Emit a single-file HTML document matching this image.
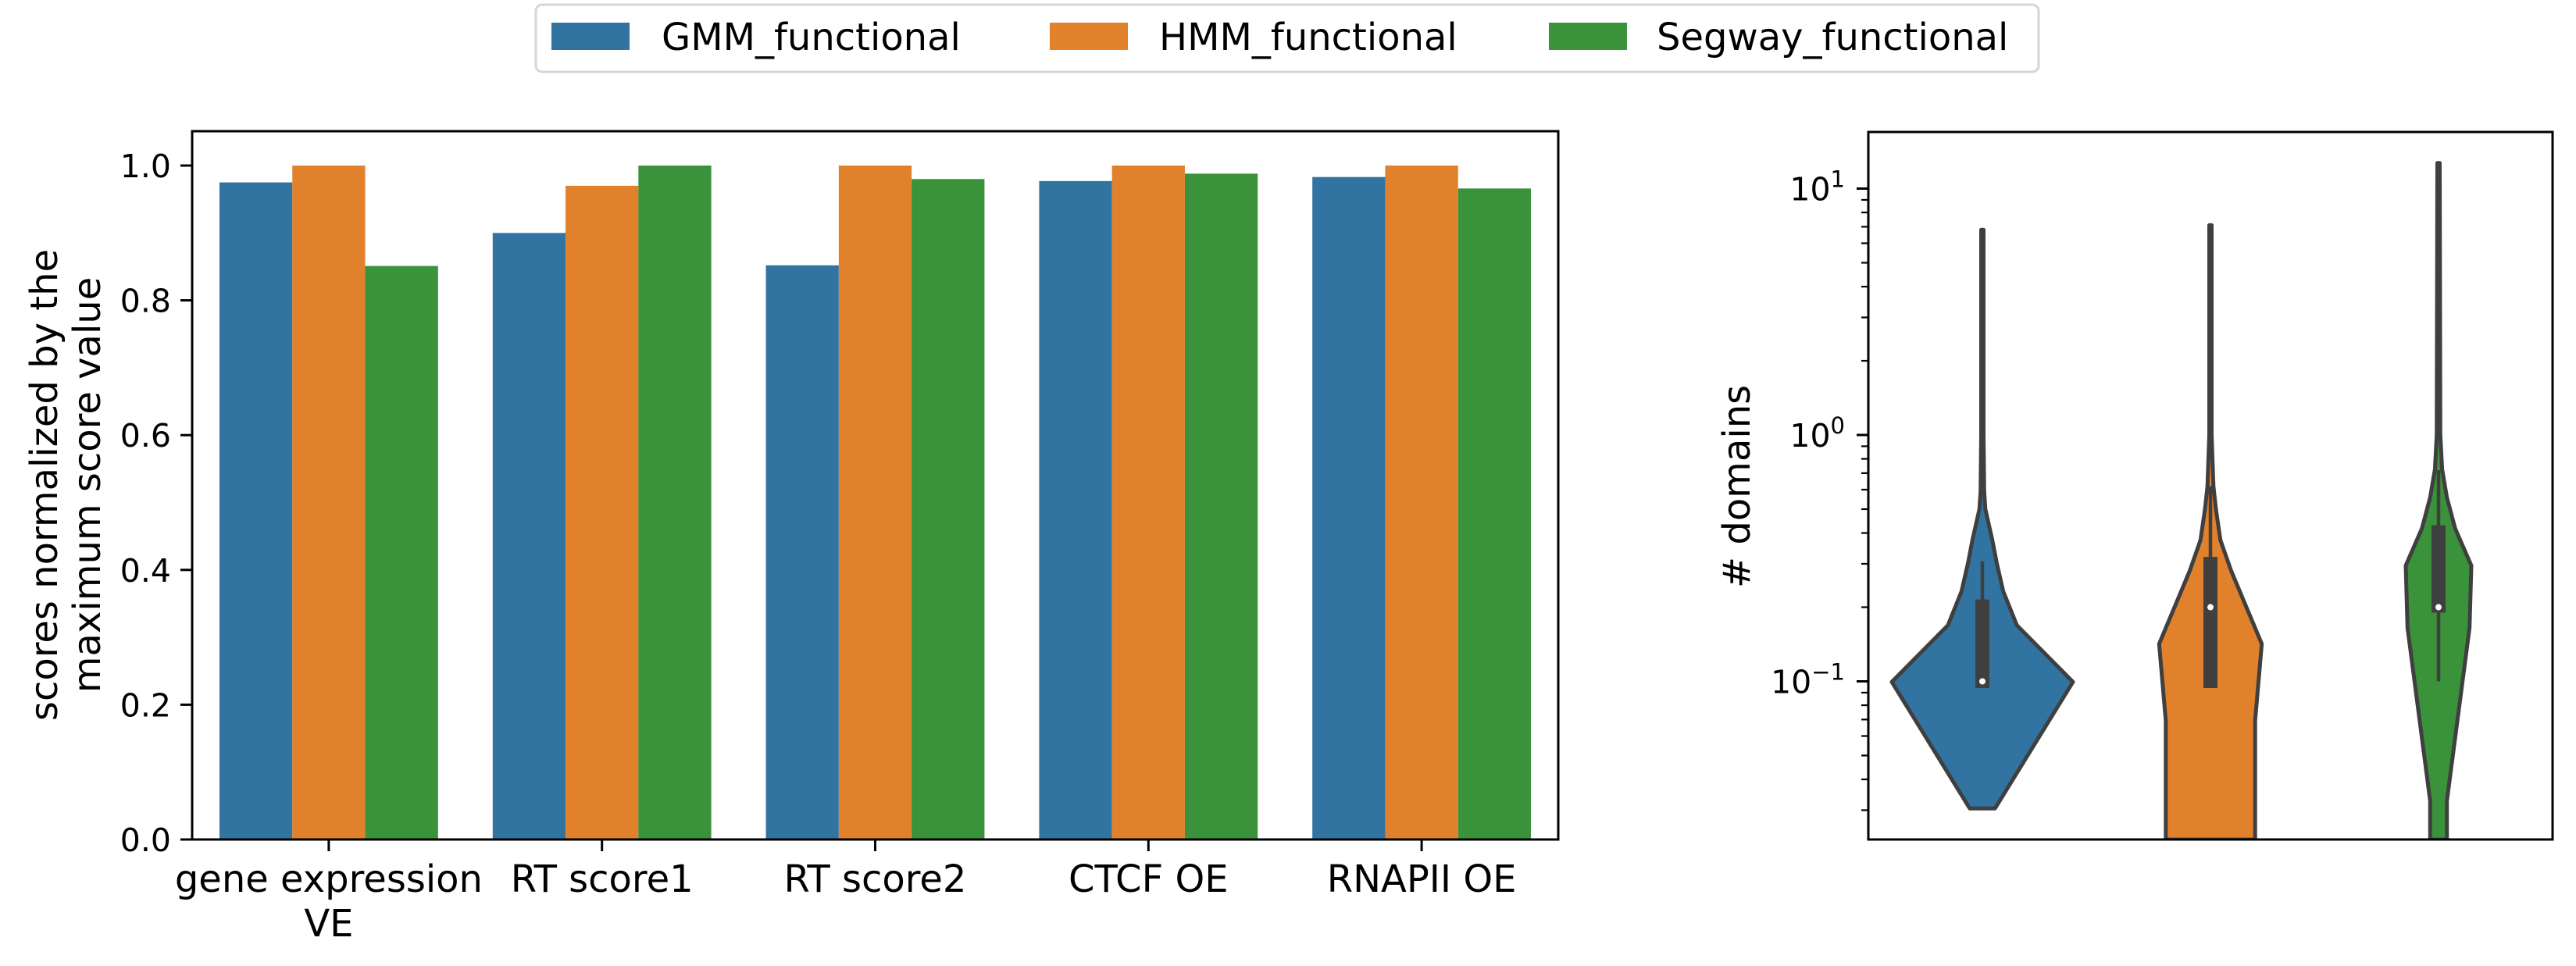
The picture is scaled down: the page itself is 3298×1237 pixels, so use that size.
<!DOCTYPE html>
<html><head><meta charset="utf-8"><style>
html,body{margin:0;padding:0;background:#fff;}
svg{display:block;font-family:"DejaVu Sans","Liberation Sans",sans-serif;}
</style></head><body>
<svg id="fig" width="3298" height="1237" viewBox="0 0 3298 1237" xmlns="http://www.w3.org/2000/svg">
<g id="legend">
<rect x="686" y="6" width="1924" height="86" rx="8" fill="#fff" stroke="#d6d6d6" stroke-width="3"/>
<rect x="706" y="29" width="100" height="35" fill="#3274a1"/>
<text x="847" y="64" font-size="48">GMM_functional</text>
<rect x="1344" y="29" width="100" height="35" fill="#e1812c"/>
<text x="1484" y="64" font-size="48">HMM_functional</text>
<rect x="1983" y="29" width="100" height="35" fill="#3a923a"/>
<text x="2121" y="64" font-size="48">Segway_functional</text>
</g>
<g id="bar"></g>
<g id="vio"></g>
</svg>
<script>
const categories = ["gene expression\nVE","RT score1","RT score2","CTCF OE","RNAPII OE"];
const gmmValues = [0.975,0.900,0.852,0.977,0.983];
const hmmValues = [1.0,0.970,1.0,1.0,1.0];
const segwayValues = [0.851,1.0,0.980,0.988,0.966];
const yTicks = [0,0.2,0.4,0.6,0.8,1.0];
const yTickLabels = ["0.0","0.2","0.4","0.6","0.8","1.0"];

const violinNames = ["GMM_functional","HMM_functional","Segway_functional"];
const gmmProfileValues = [6.8,1.0,0.59,0.50,0.374,0.303,0.232,0.169,0.0995,0.0305];
const gmmProfileDensity = [0.013,0.013,0.02,0.033,0.11,0.158,0.23,0.38,1.0,0.14];
const hmmProfileValues = [7.1,1.0,0.62,0.50,0.374,0.28,0.142,0.0693,0.0228];
const hmmProfileDensity = [0.013,0.013,0.033,0.06,0.11,0.23,0.566,0.493,0.493];
const segProfileValues = [12.7,1.0,0.726,0.558,0.417,0.295,0.165,0.0327,0.0228];
const segProfileDensity = [0.013,0.02,0.04,0.092,0.184,0.362,0.342,0.092,0.092];
const q1Values = [0.094,0.094,0.19];
const q3Values = [0.215,0.32,0.43];
const whiskerLow = [0.094,0.094,0.1];
const whiskerHigh = [0.307,0.62,0.72];
const medianValues = [0.1,0.2,0.2];
const logTickValues = [0.1,1,10];
const logTickExps = ["\u22121","0","1"];

const NS="http://www.w3.org/2000/svg";
function mk(parent,tag,attrs,text){const e=document.createElementNS(NS,tag);for(const k in attrs)e.setAttribute(k,attrs[k]);if(text!==undefined)e.textContent=text;parent.appendChild(e);return e;}
const colors=["#3274a1","#e1812c","#3a923a"];

// ---- bar chart ----
const bar=document.getElementById('bar');
const L={x0:246,x1:1995,y0:168,y1:1075};
const yB=v=>L.y1-v*863;
const step=(L.x1-L.x0)/categories.length;
const xC=i=>L.x0+step*(i+0.5);
const bw=step*0.8/3;
const series=[gmmValues,hmmValues,segwayValues];
const snames=["gmm","hmm","segway"];
series.forEach((vals,s)=>{vals.forEach((v,i)=>{
  const r=mk(bar,'rect',{x:xC(i)-1.5*bw+s*bw,y:yB(v),width:bw,height:yB(0)-yB(v),fill:colors[s]});
  
  
});});
const fr=mk(bar,'rect',{x:L.x0,y:L.y0,width:L.x1-L.x0,height:L.y1-L.y0,fill:'none',stroke:'#000','stroke-width':3});


yTicks.forEach((t,i)=>{
  const y=yB(t);
  const tk=mk(bar,'line',{x1:L.x0-15,x2:L.x0,y1:y,y2:y,stroke:'#000','stroke-width':3});
  
  
  const tx=mk(bar,'text',{x:L.x0-27,y:y+15,'font-size':41,'text-anchor':'end'},yTickLabels[i]);
  
  
});
categories.forEach((c,i)=>{
  const x=xC(i);
  const tk=mk(bar,'line',{x1:x,x2:x,y1:L.y1,y2:L.y1+15,stroke:'#000','stroke-width':3});
  
  
  c.split('\n').forEach((ln,j)=>{
    const tx=mk(bar,'text',{x:x,y:1142+j*57,'font-size':48,'text-anchor':'middle'},ln);
    
    
  });
});
const yl1=mk(bar,'text',{x:0,y:0,'font-size':48,'text-anchor':'middle',transform:'translate(73,621) rotate(-90)'},'scores normalized by the');


const yl2=mk(bar,'text',{x:0,y:0,'font-size':48,'text-anchor':'middle',transform:'translate(128,621) rotate(-90)'},'maximum score value');



// ---- violin chart ----
const vio=document.getElementById('vio');
const R={x0:2392,x1:3268,y0:169,y1:1075};
const yV=v=>872.5-(Math.log10(v)+1)*315.5;
const vstep=(R.x1-R.x0)/3;
const xV=i=>R.x0+vstep*(i+0.5);
const maxHW=116;
const defs=mk(vio,'defs',{});
const cp=mk(defs,'clipPath',{id:'vclip'});
mk(cp,'rect',{x:R.x0,y:R.y0,width:R.x1-R.x0,height:R.y1-R.y0});
const profiles=[[gmmProfileValues,gmmProfileDensity],[hmmProfileValues,hmmProfileDensity],[segProfileValues,segProfileDensity]];
const vg=mk(vio,'g',{'clip-path':'url(#vclip)'});
profiles.forEach((p,i)=>{
  const cx=xV(i);const vals=p[0],den=p[1];
  let pts=[];
  for(let k=0;k<vals.length;k++)pts.push([cx+den[k]*maxHW,yV(vals[k])]);
  for(let k=vals.length-1;k>=0;k--)pts.push([cx-den[k]*maxHW,yV(vals[k])]);
  const path=mk(vg,'path',{d:'M'+pts.map(q=>q[0].toFixed(1)+','+q[1].toFixed(1)).join('L')+'Z',fill:colors[i],stroke:'#3f3f3f','stroke-width':5,'stroke-linejoin':'round'});
  
  
  const wh=mk(vg,'line',{x1:cx,x2:cx,y1:yV(whiskerHigh[i]),y2:yV(whiskerLow[i]),stroke:'#3f3f3f','stroke-width':4.5});
  
  
  const bx=mk(vg,'rect',{x:cx-9,y:yV(q3Values[i]),width:18,height:yV(q1Values[i])-yV(q3Values[i]),fill:'#3f3f3f'});
  
  
  const md=mk(vg,'circle',{cx:cx,cy:yV(medianValues[i]),r:4,fill:'#fff'});
  
  
});
const vf=mk(vio,'rect',{x:R.x0,y:R.y0,width:R.x1-R.x0,height:R.y1-R.y0,fill:'none',stroke:'#000','stroke-width':3});


for(let e=-2;e<=1;e++){for(let m=1;m<=9;m++){
  const v=m*Math.pow(10,e);const y=yV(v);
  if(y<R.y0||y>R.y1)continue;
  const major=(m===1);
  const tk=mk(vio,'line',{x1:R.x0-(major?15:9),x2:R.x0,y1:y,y2:y,stroke:'#000','stroke-width':major?3:2.2});
  
  
}}
logTickValues.forEach((v,i)=>{
  const y=yV(v);
  const t=mk(vio,'text',{x:R.x0-30,y:y+15,'font-size':41,'text-anchor':'end'});
  
  
  mk(t,'tspan',{},'10');
  mk(t,'tspan',{dy:-17,'font-size':29},logTickExps[i]);
});
const vl=mk(vio,'text',{x:0,y:0,'font-size':48,'text-anchor':'middle',transform:'translate(2240,623) rotate(-90)'},'# domains');


</script>
</body></html>
